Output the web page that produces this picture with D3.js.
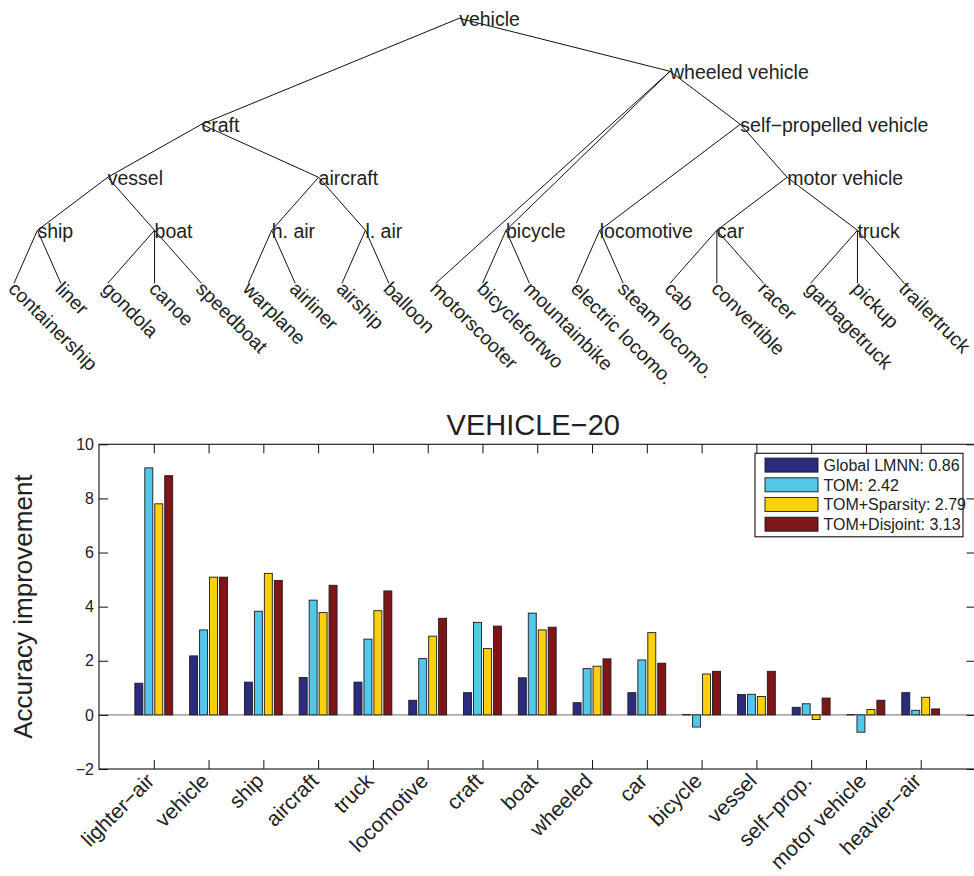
<!DOCTYPE html>
<html>
<head>
<meta charset="utf-8">
<script src="https://cdn.jsdelivr.net/npm/d3@7"></script>
<style>
  body { margin: 0; background: #fff; }
  svg { display: block; font-family: "Liberation Sans", Arial, Helvetica, sans-serif; }
</style>
</head>
<body>
<svg id="chart" width="974" height="876"></svg>
<script>
// ---- Taxonomy: [node, parent] (children listed left to right) ----
const taxonomy = [
  ["vehicle", null],
  ["craft", "vehicle"],
  ["wheeled vehicle", "vehicle"],
  ["vessel", "craft"],
  ["aircraft", "craft"],
  ["ship", "vessel"],
  ["boat", "vessel"],
  ["h. air", "aircraft"],
  ["l. air", "aircraft"],
  ["containership", "ship"],
  ["liner", "ship"],
  ["gondola", "boat"],
  ["canoe", "boat"],
  ["speedboat", "boat"],
  ["warplane", "h. air"],
  ["airliner", "h. air"],
  ["airship", "l. air"],
  ["balloon", "l. air"],
  ["motorscooter", "wheeled vehicle"],
  ["bicycle", "wheeled vehicle"],
  ["self\u2212propelled vehicle", "wheeled vehicle"],
  ["bicyclefortwo", "bicycle"],
  ["mountainbike", "bicycle"],
  ["locomotive", "self\u2212propelled vehicle"],
  ["motor vehicle", "self\u2212propelled vehicle"],
  ["electric locomo.", "locomotive"],
  ["steam locomo.", "locomotive"],
  ["car", "motor vehicle"],
  ["truck", "motor vehicle"],
  ["cab", "car"],
  ["convertible", "car"],
  ["racer", "car"],
  ["garbagetruck", "truck"],
  ["pickup", "truck"],
  ["trailertruck", "truck"]
];

// ---- Per-class accuracy improvement ----
const categories = ["lighter\u2212air", "vehicle", "ship", "aircraft", "truck", "locomotive", "craft",
  "boat", "wheeled", "car", "bicycle", "vessel", "self\u2212prop.", "motor vehicle", "heavier\u2212air"];
const globalLMNN  = [1.17, 2.18, 1.21, 1.38, 1.21, 0.54, 0.82, 1.37, 0.45, 0.82, 0.01, 0.75, 0.28, 0.01, 0.82];
const tom         = [9.13, 3.14, 3.83, 4.24, 2.80, 2.08, 3.42, 3.76, 1.71, 2.03, -0.45, 0.76, 0.41, -0.64, 0.17];
const tomSparsity = [7.80, 5.09, 5.23, 3.78, 3.85, 2.91, 2.45, 3.14, 1.80, 3.04, 1.51, 0.68, -0.17, 0.20, 0.65];
const tomDisjoint = [8.84, 5.09, 4.97, 4.79, 4.58, 3.57, 3.28, 3.24, 2.07, 1.91, 1.61, 1.61, 0.62, 0.54, 0.22];
const seriesLabels = ["Global LMNN: 0.86", "TOM: 2.42", "TOM+Sparsity: 2.79", "TOM+Disjoint: 3.13"];
const seriesColors = ["#2b2b7f", "#52c7ea", "#fdd00e", "#7e1517"];
const yTicks = [-2, 0, 2, 4, 6, 8, 10];
const chartTitle = "VEHICLE\u221220";
const yLabel = "Accuracy improvement";

const svg = d3.select("#chart");
const ink = "#222";

// ================= Tree =================
const root = d3.stratify().id(d => d[0]).parentId(d => d[1])(taxonomy);
const leaves = root.leaves();
const leafX = d3.scaleLinear().domain([0, leaves.length - 1]).range([14, 904.3]);
leaves.forEach((d, i) => { d.x = leafX(i); });
root.eachAfter(d => { if (d.children) d.x = d3.mean(d.leaves(), l => l.x); });
const levelY = d3.scaleLinear().domain([root.height, 0]).range([18.3, 283.3]);
root.each(d => { d.y = levelY(d.height); });

const tree = svg.append("g").attr("class", "tree");
tree.selectAll("line.link")
  .data(root.links())
  .join("line")
  .attr("class", "link")
  .attr("x1", d => d.source.x).attr("y1", d => d.source.y)
  .attr("x2", d => d.target.x).attr("y2", d => d.target.y)
  .attr("stroke", "#111").attr("stroke-width", 1);

tree.selectAll("text.inner")
  .data(root.descendants().filter(d => d.children))
  .join("text")
  .attr("class", "inner")
  .attr("x", d => d.x).attr("y", d => d.y)
  .attr("dy", "0.42em")
  .attr("font-size", 19.5)
  .attr("fill", ink)
  .text(d => d.id);

tree.selectAll("text.leaf")
  .data(leaves)
  .join("text")
  .attr("class", "leaf")
  .attr("transform", d => `translate(${d.x},${d.y}) rotate(45)`)
  .attr("dy", "0.48em")
  .attr("font-size", 19.5)
  .attr("fill", ink)
  .text(d => d.id);

// ================= Bar chart =================
const plot = { left: 99, right: 975.5, top: 444.3, bottom: 769 };
const series = [globalLMNN, tom, tomSparsity, tomDisjoint];

const x = d3.scaleLinear().domain([0, categories.length + 1]).range([plot.left, plot.right]);
const y = d3.scaleLinear().domain([-2, 10]).range([plot.bottom, plot.top]);
const slot = x(1) - x(0);
const groupHalf = Math.min(0.8, series.length / (series.length + 1.5)) / 2;
const inner = d3.scaleBand()
  .domain(d3.range(series.length))
  .range([-groupHalf * slot, groupHalf * slot])
  .paddingInner(0.2).paddingOuter(0.1);
const catPos = categories.map((c, i) => i + 1);

const chart = svg.append("g").attr("class", "bars");

// zero baseline
chart.append("line")
  .attr("x1", plot.left).attr("x2", plot.right)
  .attr("y1", y(0)).attr("y2", y(0))
  .attr("stroke", "#8a8a8a").attr("stroke-width", 1.4);

series.forEach((vals, s) => {
  chart.append("g")
    .selectAll("rect")
    .data(vals)
    .join("rect")
    .attr("x", (v, i) => x(i + 1) + inner(s))
    .attr("width", inner.bandwidth())
    .attr("y", v => y(Math.max(0, v)))
    .attr("height", v => Math.abs(y(v) - y(0)))
    .attr("fill", seriesColors[s])
    .attr("stroke", "#1a1a1a")
    .attr("stroke-width", 0.9);
});

// axes (ticks point inward, box on)
const axisStyle = g => {
  g.select(".domain").remove();
  g.selectAll(".tick line").attr("stroke", "#111");
  g.selectAll("text").attr("fill", ink).attr("font-family", null);
};

svg.append("g")
  .attr("transform", `translate(${plot.left},0)`)
  .call(d3.axisLeft(y).tickValues(yTicks).tickSizeInner(-9).tickSizeOuter(0).tickPadding(5))
  .call(axisStyle)
  .call(g => g.selectAll("text").attr("font-size", 16));

svg.append("g")
  .attr("transform", `translate(${plot.right},0)`)
  .call(d3.axisRight(y).tickValues(yTicks).tickSizeInner(-9).tickSizeOuter(0).tickFormat(""))
  .call(axisStyle);

svg.append("g")
  .attr("transform", `translate(0,${plot.top})`)
  .call(d3.axisTop(x).tickValues(catPos).tickSizeInner(-9).tickSizeOuter(0).tickFormat(""))
  .call(axisStyle);

svg.append("g")
  .attr("transform", `translate(0,${plot.bottom})`)
  .call(d3.axisBottom(x).tickValues(catPos).tickSizeInner(-9).tickSizeOuter(0)
    .tickFormat(v => categories[v - 1]))
  .call(axisStyle)
  .call(g => g.selectAll("text")
    .attr("font-size", 21)
    .attr("text-anchor", "end")
    .attr("y", null).attr("dy", "0.42em")
    .attr("transform", "translate(-5,7) rotate(-45)"));

// frame
svg.append("rect")
  .attr("x", plot.left).attr("y", plot.top)
  .attr("width", plot.right - plot.left).attr("height", plot.bottom - plot.top)
  .attr("fill", "none").attr("stroke", "#111").attr("stroke-width", 1.1);

// title and y label
svg.append("text")
  .attr("x", (plot.left + plot.right) / 2 - 4).attr("y", 435)
  .attr("text-anchor", "middle")
  .attr("font-size", 29).attr("fill", ink)
  .text(chartTitle);

svg.append("text")
  .attr("transform", `translate(32,${(plot.top + plot.bottom) / 2}) rotate(-90)`)
  .attr("text-anchor", "middle")
  .attr("font-size", 26).attr("fill", ink)
  .text(yLabel);

// legend
const lg = { right: plot.right - 12.5, top: plot.top + 9, width: 208, height: 83.5, row: 19.7 };
const legend = svg.append("g").attr("transform", `translate(${lg.right - lg.width},${lg.top})`);
legend.append("rect")
  .attr("width", lg.width).attr("height", lg.height)
  .attr("fill", "#fff").attr("stroke", "#111").attr("stroke-width", 1.1);
const items = legend.selectAll("g.item")
  .data(seriesLabels)
  .join("g")
  .attr("class", "item")
  .attr("transform", (d, i) => `translate(0,${11.8 + i * lg.row})`);
items.append("rect")
  .attr("x", 10).attr("y", -7)
  .attr("width", 53).attr("height", 14)
  .attr("fill", (d, i) => seriesColors[i])
  .attr("stroke", "#1a1a1a").attr("stroke-width", 0.9);
items.append("text")
  .attr("x", 68.5).attr("dy", "0.36em")
  .attr("font-size", 16).attr("fill", ink)
  .text(d => d);
</script>
</body>
</html>
